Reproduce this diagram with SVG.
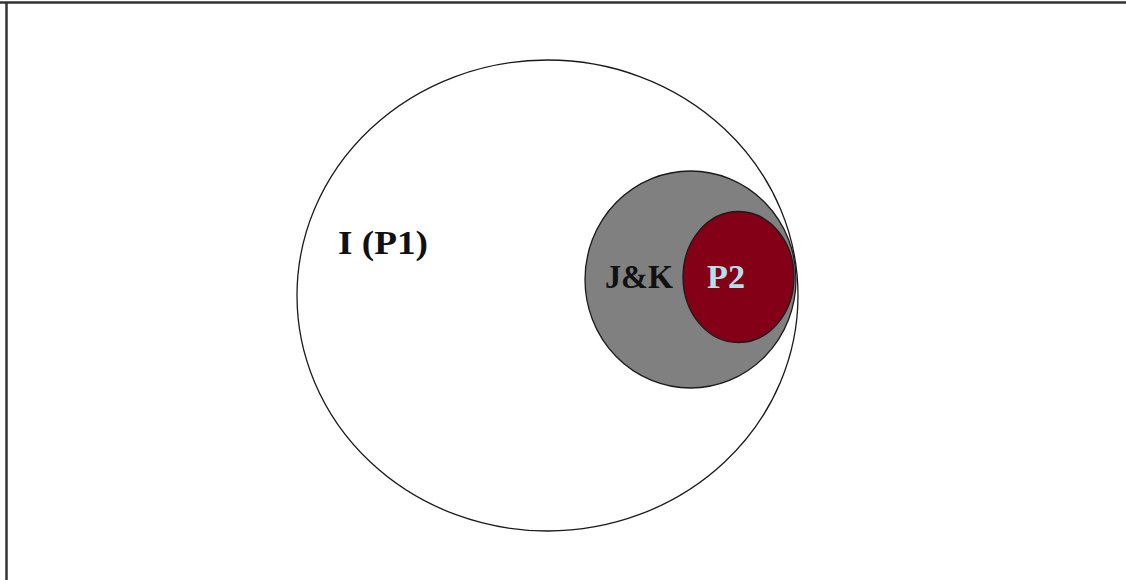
<svg xmlns="http://www.w3.org/2000/svg" width="1126" height="580" viewBox="0 0 1126 580">
<style>
.lbl{font-family:"Liberation Serif","Times New Roman",serif;font-weight:bold;font-size:33px}
.shape{stroke:#1a1a1a;stroke-width:1.3}
</style>
<rect width="1126" height="580" fill="#ffffff"/>
<g id="frame" stroke="#333" stroke-width="2.5" fill="none">
<line x1="0" y1="2.5" x2="1126" y2="2.5"/>
<line x1="6.5" y1="2" x2="6.5" y2="580"/>
</g>
<g id="node-I">
<ellipse class="shape" cx="547.5" cy="295.5" rx="250.5" ry="235.5" fill="#ffffff"/>
<text class="lbl" x="338" y="254" fill="#111" textLength="90" lengthAdjust="spacingAndGlyphs">I (P1)</text>
</g>
<g id="node-JK">
<ellipse class="shape" cx="690.5" cy="279.5" rx="105.5" ry="108.5" fill="#808080"/>
<text class="lbl" x="605" y="288" fill="#111" textLength="68" lengthAdjust="spacingAndGlyphs">J&amp;K</text>
</g>
<g id="node-P2">
<ellipse class="shape" cx="738.5" cy="277" rx="55.5" ry="65.5" fill="#830016"/>
<text class="lbl" x="707" y="288" fill="#b4e0ee" textLength="38" lengthAdjust="spacingAndGlyphs">P2</text>
</g>
<g id="connectors"></g>
</svg>
